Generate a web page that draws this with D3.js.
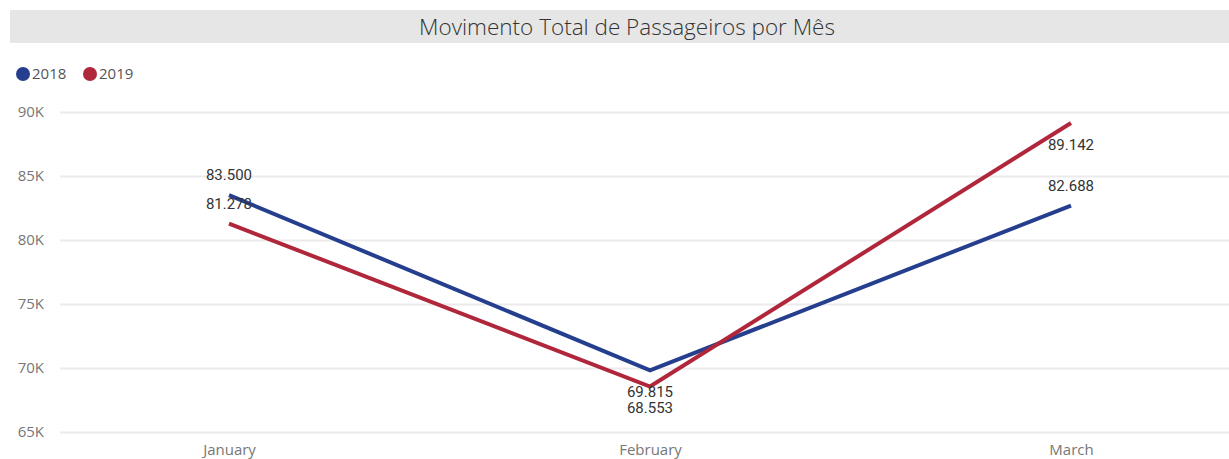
<!DOCTYPE html>
<html>
<head>
<meta charset="utf-8">
<script src="https://cdn.jsdelivr.net/npm/d3@7"></script>
<style>
  body { margin: 0; background: #fff; }
  svg { display: block; }
</style>
</head>
<body>
<div id="chart"></div>
<script>
var months = ["January", "February", "March"];
var values2018 = [83500, 69815, 82688];
var values2019 = [81278, 68553, 89142];
var yTicks = [65000, 70000, 75000, 80000, 85000, 90000];
var seriesNames = ["2018", "2019"];
// where each data label sits relative to its point
var labelSide2018 = ["above", "below", "above"];
var labelSide2019 = ["above", "below", "below"];

var colors = { "2018": "#253f8e", "2019": "#b0263a" };

var W = 1229, H = 459;
var plot = { left: 60, right: 1229, top: 112, bottom: 432 };

var svg = d3.select("#chart")
    .append("svg")
    .attr("width", W)
    .attr("height", H);

// Title bar
svg.append("rect")
    .attr("x", 10).attr("y", 10)
    .attr("width", W - 10).attr("height", 33)
    .attr("fill", "#e6e6e6");

svg.append("text")
    .attr("x", 627).attr("y", 29)
    .attr("text-anchor", "middle")
    .attr("dominant-baseline", "middle")
    .style("font-family", "'Open Sans', sans-serif")
    .style("font-weight", 300)
    .style("font-size", "22.5px")
    .attr("fill", "#333")
    .text("Movimento Total de Passageiros por Mês");

// Legend
var legend = svg.append("g")
    .selectAll("g")
    .data(seriesNames)
    .enter()
    .append("g")
    .attr("transform", function(d, i) { return "translate(" + (23 + i * 67) + ",74)"; });

legend.append("circle")
    .attr("r", 7)
    .attr("fill", function(d) { return colors[d]; });

legend.append("text")
    .attr("x", 9)
    .attr("dy", "0.35em")
    .style("font-family", "'Open Sans', sans-serif")
    .style("font-size", "15px")
    .attr("fill", "#555")
    .text(function(d) { return d; });

// Scales
var x = d3.scalePoint()
    .domain(months)
    .range([229, 1071]);

var y = d3.scaleLinear()
    .domain([65000, 90000])
    .range([plot.bottom, plot.top]);

// Gridlines + y labels
var yAxis = svg.append("g")
    .attr("transform", "translate(" + plot.left + ",0)")
    .call(d3.axisLeft(y)
        .tickValues(yTicks)
        .tickSize(-(plot.right - plot.left))
        .tickPadding(16)
        .tickFormat(function(d) { return (d / 1000) + "K"; }));

yAxis.select(".domain").remove();
yAxis.selectAll(".tick line")
    .attr("stroke", "#ebebeb")
    .attr("stroke-width", 2);
yAxis.selectAll(".tick text")
    .style("font-family", "'Open Sans', sans-serif")
    .style("font-size", "15px")
    .attr("fill", "#777");

// X axis labels
var xAxis = svg.append("g")
    .attr("transform", "translate(0," + plot.bottom + ")")
    .call(d3.axisBottom(x).tickSize(0).tickPadding(12));

xAxis.select(".domain").remove();
xAxis.selectAll(".tick text")
    .style("font-family", "'Open Sans', sans-serif")
    .style("font-size", "15px")
    .attr("fill", "#777");

// Lines
var series = [
    { name: "2018", values: values2018, sides: labelSide2018 },
    { name: "2019", values: values2019, sides: labelSide2019 }
];

var line = d3.line()
    .x(function(d, i) { return x(months[i]); })
    .y(function(d) { return y(d); });

svg.append("g")
    .selectAll("path")
    .data(series)
    .enter()
    .append("path")
    .attr("fill", "none")
    .attr("stroke", function(d) { return colors[d.name]; })
    .attr("stroke-width", 4)
    .attr("stroke-linejoin", "miter")
    .attr("d", function(d) { return line(d.values); });

// Data labels
var fmt = function(v) { return d3.format(",")(v).replace(/,/g, "."); };

series.forEach(function(s) {
    svg.append("g")
        .selectAll("text")
        .data(s.values)
        .enter()
        .append("text")
        .attr("x", function(d, i) { return x(months[i]); })
        .attr("y", function(d, i) { return y(d) + (s.sides[i] === "above" ? -19 : 23); })
        .attr("text-anchor", "middle")
        .attr("dominant-baseline", "middle")
        .style("font-family", "Roboto, sans-serif")
        .style("font-size", "15px")
        .attr("fill", "#333")
        .text(function(d) { return fmt(d); });
});
</script>
</body>
</html>
